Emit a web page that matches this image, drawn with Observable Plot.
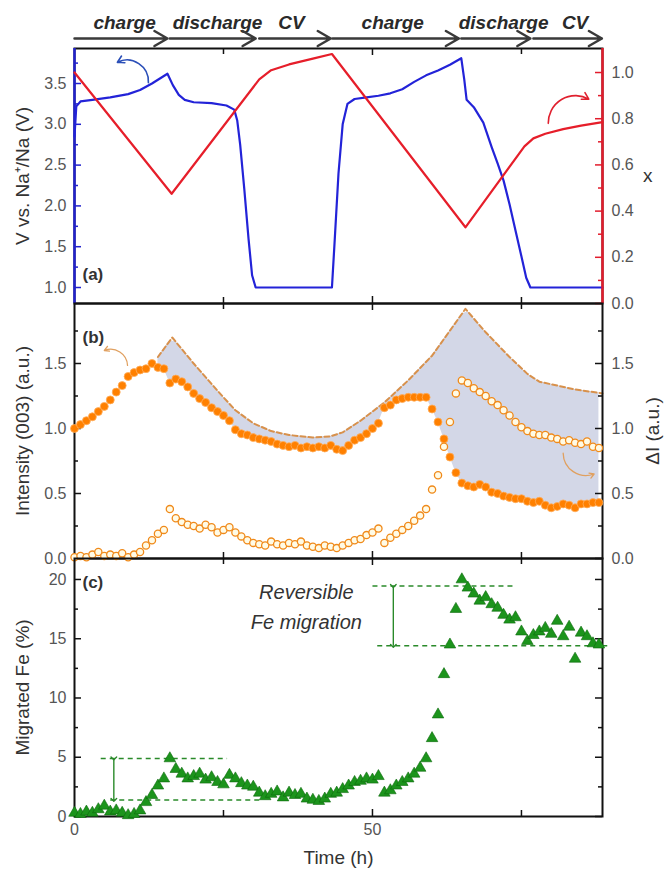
<!DOCTYPE html>
<html><head><meta charset="utf-8">
<script src="https://cdn.jsdelivr.net/npm/d3@7"></script>
<script src="https://cdn.jsdelivr.net/npm/@observablehq/plot@0.6"></script>
<style>
body{margin:0;background:#fff;}
#wrap{position:relative;width:665px;height:876px;overflow:hidden;background:#fff;font-family:"Liberation Sans",Arial,sans-serif;}
#wrap svg{position:absolute;left:0;top:0;background:transparent !important;overflow:visible;}
</style></head><body><div id="wrap"></div>
<script>
// ---------------- DATA ----------------
const phaseLabels = ["charge","discharge","CV","charge","discharge","CV"];
const phaseLabelTime = [8.4, 24, 36.4, 53.4, 72, 84];
const phaseStart = [0, 16, 31, 43.3, 64.9, 77];
const phaseEnd   = [15.6, 30.4, 43, 64.5, 76.5, 88.5];

// panel (a): voltage (left axis) and x (right axis)
const voltTime  = [0,0.3,1,3,6,9,11,13,15.6,16.5,17.5,18.5,20,23,25.5,26.8,27.3,27.8,28.5,29.2,29.8,30.4,43.2,43.6,44.3,45,45.8,47,49,51,53,55,57,59,61,63,64.9,65.4,65.8,67,68.6,70,71,72,73,74,75,75.8,76.5,88.6];
const voltValue = [2.85,3.22,3.28,3.30,3.33,3.37,3.42,3.50,3.62,3.48,3.36,3.30,3.27,3.26,3.23,3.18,3.05,2.75,2.20,1.60,1.15,1.00,1.00,1.50,2.40,3.00,3.25,3.31,3.33,3.35,3.38,3.43,3.52,3.60,3.66,3.73,3.81,3.55,3.30,3.21,3.02,2.72,2.52,2.31,2.02,1.70,1.38,1.12,1.00,1.00];
const xTime  = [0,16.3,31,33,36,40,43.2,65.6,75.5,77,79,82,85,88.6];
const xValue = [1.00,0.475,0.97,1.01,1.035,1.06,1.08,0.33,0.68,0.715,0.735,0.755,0.77,0.785];

// panels (b) and (c): shared sampling times (h)
const sampleTime = [0,1,2,3,4,5,6,7,8,9,10,11,12,13,14,15,16,17,18,19,20,21,22,23,24,25,26,27,28,29,30,31,32,33,34,35,36,37,38,39,40,41,42,43,44,45,46,47,48,49,50,51,52,53,54,55,56,57,58,59,60,61,62,63,64,65,66,67,68,69,70,71,72,73,74,75,76,77,78,79,80,81,82,83,84,85,86,87,88];
const intensity003 = [1.00,1.03,1.06,1.09,1.13,1.17,1.22,1.28,1.33,1.40,1.43,1.45,1.46,1.50,1.47,1.46,1.35,1.38,1.36,1.32,1.27,1.23,1.20,1.16,1.13,1.10,1.06,0.99,0.96,0.95,0.93,0.92,0.91,0.90,0.88,0.87,0.86,0.87,0.85,0.86,0.85,0.86,0.85,0.87,0.84,0.83,0.87,0.91,0.93,0.96,1.00,1.04,1.16,1.18,1.22,1.23,1.24,1.24,1.24,1.24,1.15,1.05,0.92,0.78,0.66,0.58,0.56,0.55,0.57,0.55,0.51,0.50,0.48,0.47,0.46,0.46,0.44,0.43,0.44,0.41,0.39,0.40,0.42,0.41,0.39,0.42,0.42,0.43,0.43];
const deltaI = [0.01,0.02,0.01,0.03,0.05,0.02,0.03,0.02,0.04,0.01,0.03,0.05,0.10,0.14,0.19,0.22,0.38,0.31,0.28,0.26,0.25,0.23,0.26,0.24,0.20,0.22,0.24,0.20,0.17,0.14,0.12,0.11,0.10,0.13,0.11,0.10,0.12,0.11,0.13,0.10,0.09,0.08,0.10,0.09,0.08,0.10,0.12,0.14,0.15,0.18,0.20,0.23,0.12,0.16,0.19,0.22,0.25,0.29,0.33,0.38,0.53,0.64,0.86,1.05,1.27,1.37,1.35,1.31,1.28,1.25,1.21,1.18,1.14,1.10,1.05,1.01,0.98,0.96,0.95,0.95,0.93,0.92,0.90,0.91,0.89,0.88,0.90,0.86,0.85];
const envTime  = [14,16.4,20,24,27,30,33,36,40,43,45,48,52,56,60,65.6,69,73,76,78,81,84,88.6];
const envValue = [1.55,1.70,1.50,1.29,1.14,1.04,0.98,0.95,0.93,0.94,0.97,1.06,1.20,1.37,1.56,1.92,1.74,1.55,1.42,1.36,1.33,1.30,1.27];
const migratedFe = [0.3,0.2,0.4,0.3,0.6,0.9,0.4,0.5,0.3,0.1,0.2,0.5,1.2,1.8,2.6,3.2,4.9,4.0,3.6,3.2,3.4,3.6,3.1,3.3,2.9,2.7,3.5,3.2,2.8,2.6,2.5,2.0,1.7,1.9,2.1,1.6,2.0,1.8,1.9,1.5,1.4,1.3,1.5,1.9,2.0,2.3,2.6,2.9,3.0,3.2,3.1,3.4,2.0,2.2,2.6,2.9,3.2,3.6,4.1,4.9,6.6,8.6,12.0,14.5,17.5,20.0,19.3,18.8,18.2,18.5,17.9,17.6,17.0,16.6,16.8,15.6,14.8,15.3,15.6,15.9,15.4,16.5,15.2,16.0,13.3,15.5,15.2,14.6,14.5];

// annotation guides in panel (c)
const feLevelY  = [4.9, 1.4, 19.45, 14.4];
const feLevelX1 = [4.4, 6, 50, 50.8];
const feLevelX2 = [25.6, 31, 73.5, 89.4];
const feSpanX = [6.6, 53.5];
const feSpanTop = [4.9, 19.45];
const feSpanBottom = [1.4, 14.4];

// curved pointer arrows (data units)
const voltArrow = [{x1:12.4, y1:3.51, x2:7.2, y2:3.76}];
const xArrow = [{x1:79.5, y1:0.78, x2:86.3, y2:0.885}];
const intArrows = [{x1:8.9, y1:1.485, x2:5.0, y2:1.60}, {x1:82, y1:0.81, x2:87.2, y2:0.65}];

// tick values
const timeMajor = [0, 50], timeMinor = [25, 75];
const voltMajor = [1.0,1.5,2.0,2.5,3.0,3.5], voltMinor = [1.25,1.75,2.25,2.75,3.25,3.75];
const xMajor = [0,0.2,0.4,0.6,0.8,1.0], xMinor = [0.1,0.3,0.5,0.7,0.9];
const intMajor = [0,0.5,1.0,1.5], intMinor = [0.25,0.75,1.25,1.75];
const feMajor = [0,5,10,15,20], feMinor = [2.5,7.5,12.5,17.5];

// ---------------- LAYOUT ----------------
const W = 665, H = 876, ML = 74, MR = 63, FW = W - ML - MR;
const XDOM = [0, 88.6];
const FONT = "Liberation Sans, Arial, sans-serif";
const wrap = document.getElementById("wrap");

function mk(top, bottom, ydom, marks, yrange) {
  const y = {domain: ydom, axis: null};
  if (yrange) y.range = yrange;
  const svg = Plot.plot({
    width: W, height: H, marginLeft: ML, marginRight: MR,
    marginTop: top, marginBottom: H - bottom,
    x: {domain: XDOM, axis: null}, y,
    style: {background: "transparent", overflow: "visible", fontFamily: FONT},
    marks
  });
  wrap.appendChild(svg);
}
function yTicks(vals, side, len, color) {
  const o = {y: d => d, stroke: color, strokeWidth: 1.5};
  o[side === "left" ? "insetRight" : "insetLeft"] = FW - len;
  return Plot.tickY(vals, o);
}
function xTicks(vals, len, FH) {
  return [
    Plot.tickX(vals, {x: d => d, stroke: "#111", strokeWidth: 1.5, insetBottom: FH - len}),
    Plot.tickX(vals, {x: d => d, stroke: "#111", strokeWidth: 1.5, insetTop: FH - len})
  ];
}
function yLabels(vals, side, fmt) {
  return Plot.text(vals, {y: d => d, text: fmt, frameAnchor: side, textAnchor: side === "left" ? "end" : "start",
    dx: side === "left" ? -8 : 9, fontSize: 16, fill: "#555"});
}
function title(t, side, dx, rot) {
  return Plot.text([t], {frameAnchor: side, rotate: rot, dx, fontSize: 19, fill: "#333", textAnchor: "middle"});
}

// phase bar
const phases = phaseLabels.map((l, i) => ({l, t: phaseLabelTime[i], s: phaseStart[i], e: phaseEnd[i]}));
mk(0, 48, [0, 48], [
  Plot.text(phases, {x: "t", y: () => 22, text: "l", fontSize: 19, fontWeight: "bold", fontStyle: "italic", fill: "#2a2a2a"}),
  Plot.arrow(phases, {x1: "s", x2: "e", y1: () => 38, y2: () => 38, stroke: "#3a3a3a", strokeWidth: 2.5, headLength: 9})
], [0, 48]);

// panel (a) voltage
const volt = voltTime.map((t, i) => ({t, v: voltValue[i]}));
mk(48, 303, [0.804, 3.929], [
  Plot.frame({stroke: "#111", strokeWidth: 2}),
  Plot.ruleX([XDOM[0]], {stroke: "#2222cc", strokeWidth: 2.5}),
  ...xTicks(timeMajor.slice(1), 7, 255), ...xTicks(timeMinor, 6, 255),
  yTicks(voltMajor, "left", 7, "#2222cc"), yTicks(voltMinor, "left", 4, "#2222cc"),
  yLabels(voltMajor, "left", d => d.toFixed(1)),
  title("V vs. Na\u207A/Na (V)", "left", -52, -90),
  Plot.line(volt, {x: "t", y: "v", stroke: "#2323d8", strokeWidth: 2.2}),
  Plot.arrow(voltArrow, {x1: "x1", y1: "y1", x2: "x2", y2: "y2", bend: -60, stroke: "#2b4fb8", strokeWidth: 1.6, headLength: 7}),
  Plot.text(["(a)"], {frameAnchor: "bottom-left", dx: 8, dy: -24, textAnchor: "start", fontSize: 17, fontWeight: "bold", fill: "#333"})
]);

// panel (a) x (right axis)
const xs = xTime.map((t, i) => ({t, v: xValue[i]}));
mk(48, 303, [0, 1.104], [
  Plot.ruleX([XDOM[1]], {stroke: "#e21c2c", strokeWidth: 2.5}),
  yTicks(xMajor, "right", 7, "#e21c2c"), yTicks(xMinor, "right", 4, "#e21c2c"),
  yLabels(xMajor, "right", d => d.toFixed(1)),
  Plot.text(["x"], {frameAnchor: "right", dx: 50, fontSize: 19, fill: "#333"}),
  Plot.line(xs, {x: "t", y: "v", stroke: "#e61e2a", strokeWidth: 2.2}),
  Plot.arrow(xArrow, {x1: "x1", y1: "y1", x2: "x2", y2: "y2", bend: 60, stroke: "#e0202e", strokeWidth: 1.6, headLength: 7})
]);

// panel (b)
function interp(xsArr, ysArr, t) {
  for (let i = 0; i < xsArr.length - 1; i++) {
    if (t >= xsArr[i] && t <= xsArr[i + 1]) {
      const f = (t - xsArr[i]) / (xsArr[i + 1] - xsArr[i]);
      return ysArr[i] + f * (ysArr[i + 1] - ysArr[i]);
    }
  }
  return ysArr[ysArr.length - 1];
}
const rowsB = sampleTime.map((t, i) => ({t, I: intensity003[i], d: deltaI[i]}));
const fillRows = rowsB.filter(r => r.t >= envTime[0]).map(r => ({t: r.t, lo: r.I, hi: interp(envTime, envValue, r.t)}));
const env = envTime.map((t, i) => ({t, v: envValue[i]}));
mk(303, 558, [0, 1.9615], [
  Plot.areaY(fillRows, {x: "t", y1: "lo", y2: "hi", fill: "#d3d7e7"}),
  Plot.line(env, {x: "t", y: "v", stroke: "#d8914c", strokeWidth: 2, strokeDasharray: "5,3"}),
  Plot.frame({stroke: "#111", strokeWidth: 2}),
  ...xTicks(timeMajor.slice(1), 7, 255), ...xTicks(timeMinor, 6, 255),
  yTicks(intMajor, "left", 7, "#111"), yTicks(intMinor, "left", 4, "#111"),
  yTicks(intMajor, "right", 7, "#111"), yTicks(intMinor, "right", 4, "#111"),
  yLabels(intMajor, "left", d => d.toFixed(1)),
  yLabels(intMajor, "right", d => d.toFixed(1)),
  title("Intensity (003) (a.u.)", "left", -52, -90),
  title("\u0394I (a.u.)", "right", 50, -90),
  Plot.dot(rowsB, {x: "t", y: "I", r: 4, fill: "#ff8000", stroke: "#ffad5c", strokeWidth: 0.8}),
  Plot.dot(rowsB, {x: "t", y: "d", r: 3.6, fill: "#fffbe6", stroke: "#f08a1a", strokeWidth: 1.3}),
  Plot.arrow(intArrows, {x1: "x1", y1: "y1", x2: "x2", y2: "y2", bend: -55, stroke: "#e0a060", strokeWidth: 1.3, headLength: 6}),
  Plot.text(["(b)"], {frameAnchor: "top-left", dx: 8, dy: 27, textAnchor: "start", fontSize: 17, fontWeight: "bold", fill: "#333"})
]);

// panel (c)
const rowsC = sampleTime.map((t, i) => ({t, f: migratedFe[i]}));
const levels = feLevelY.map((y, i) => ({y, x1: feLevelX1[i], x2: feLevelX2[i]}));
const spans = feSpanX.map((x, i) => ({x, y1: feSpanTop[i], y2: feSpanBottom[i]}));
mk(558, 816, [0, 21.77], [
  Plot.frame({stroke: "#111", strokeWidth: 2}),
  ...xTicks(timeMajor.slice(1), 7, 258), ...xTicks(timeMinor, 6, 258),
  yTicks(feMajor, "left", 7, "#111"), yTicks(feMinor, "left", 4, "#111"),
  yTicks(feMajor, "right", 7, "#111"), yTicks(feMinor, "right", 4, "#111"),
  yLabels(feMajor, "left", d => String(d)),
  Plot.text(timeMajor, {x: d => d, text: d => String(d), frameAnchor: "bottom", dy: 18, fontSize: 16, fill: "#555"}),
  Plot.text(["Time (h)"], {frameAnchor: "bottom", dy: 47, fontSize: 19, fill: "#333"}),
  title("Migrated Fe (%)", "left", -52, -90),
  Plot.link(levels, {x1: "x1", x2: "x2", y1: "y", y2: "y", stroke: "#2a8a2a", strokeWidth: 1.5, strokeDasharray: "5,4"}),
  Plot.link(spans, {x1: "x", x2: "x", y1: "y1", y2: "y2", stroke: "#2a8a2a", strokeWidth: 1.4, markerStart: "arrow", markerEnd: "arrow"}),
  Plot.dot(rowsC, {x: "t", y: "f", symbol: "triangle", r: 4.3, fill: "#1c941c", stroke: "#0c6a0c", strokeWidth: 0.6}),
  Plot.text(["Reversible", "Fe migration"], {x: () => 38.9, y: (d, i) => [18.9, 16.4][i], fontSize: 20, fontStyle: "italic", fill: "#333"}),
  Plot.text(["(c)"], {frameAnchor: "top-left", dx: 8, dy: 17, textAnchor: "start", fontSize: 17, fontWeight: "bold", fill: "#333"})
]);
</script></body></html>
